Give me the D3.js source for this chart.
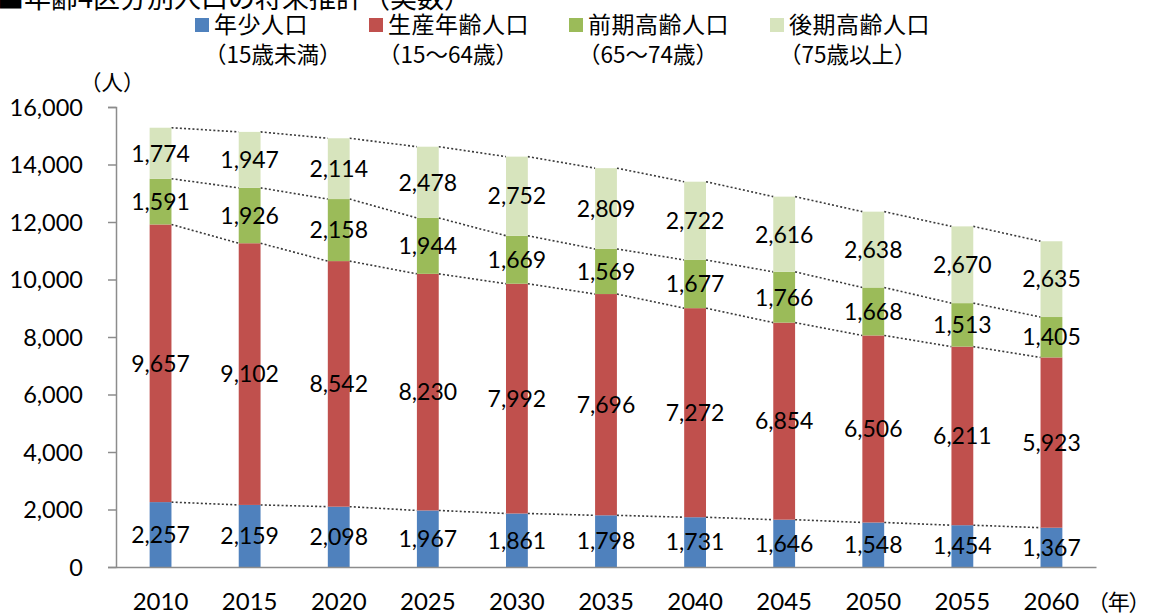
<!DOCTYPE html>
<html><head><meta charset="utf-8">
<script src="https://cdn.jsdelivr.net/npm/d3@7"></script>
<style>
body{margin:0;background:#fff;}
svg{display:block;}
text{font-family:"Lato","Noto Sans CJK JP",sans-serif;fill:#000;}
.jp{font-family:"Noto Sans CJK JP",sans-serif;}
</style></head>
<body>
<svg id="chart" width="1149" height="615"></svg>
<script>
const years = ["2010","2015","2020","2025","2030","2035","2040","2045","2050","2055","2060"];
const youth = [2257,2159,2098,1967,1861,1798,1731,1646,1548,1454,1367];
const working = [9657,9102,8542,8230,7992,7696,7272,6854,6506,6211,5923];
const earlyElderly = [1591,1926,2158,1944,1669,1569,1677,1766,1668,1513,1405];
const lateElderly = [1774,1947,2114,2478,2752,2809,2722,2616,2638,2670,2635];
const seriesNames = ["年少人口","生産年齢人口","前期高齢人口","後期高齢人口"];
const seriesSub = ["（15歳未満）","（15～64歳）","（65～74歳）","（75歳以上）"];
const colors = ["#4F81BD","#C0504D","#9BBB59","#D7E4BD"];
const yTicks = [0,2000,4000,6000,8000,10000,12000,14000,16000];
const title = "■年齢4区分別人口の将来推計（実数）";

const svg = d3.select("#chart");
const x0 = 116, x1 = 1096, yBottom = 567, yTop = 107;
const x = d3.scaleBand().domain(years).range([x0, x1]).paddingInner(0.755).paddingOuter(0.3775);
const y = d3.scaleLinear().domain([0,16000]).range([yBottom, yTop]);

const rows = years.map((yr,i)=>({year:yr, s0:youth[i], s1:working[i], s2:earlyElderly[i], s3:lateElderly[i]}));
const stack = d3.stack().keys(["s0","s1","s2","s3"])(rows);

// title (cut off at top)
svg.append("text").attr("class","jp").attr("x",-3).attr("y",8).attr("font-size",27).text(title);

// dotted connector lines
const bw = x.bandwidth();
stack.forEach(layer=>{
  for(let i=0;i<years.length-1;i++){
    svg.append("line")
      .attr("x1", x(years[i])+bw).attr("y1", y(layer[i][1]))
      .attr("x2", x(years[i+1])).attr("y2", y(layer[i+1][1]))
      .attr("stroke","#3a3a3a").attr("stroke-width",1.6).attr("stroke-dasharray","2,2.2");
  }
});

// bars
stack.forEach((layer,k)=>{
  svg.append("g").selectAll("rect").data(layer).join("rect")
    .attr("x", d=>x(d.data.year)).attr("width", bw)
    .attr("y", d=>y(d[1])).attr("height", d=>y(d[0])-y(d[1]))
    .attr("fill", colors[k]);
});

// axes
const yAxis = d3.axisLeft(y).tickValues(yTicks).tickSize(8).tickFormat(d3.format(","));
const gy = svg.append("g").attr("transform",`translate(${x0},0)`).call(yAxis);
gy.select(".domain").attr("stroke","#8c8c8c").attr("stroke-width",1.5);
gy.selectAll(".tick line").attr("stroke","#8c8c8c").attr("stroke-width",1.5);
gy.selectAll(".tick text").attr("font-size",23.5).attr("x",-33).attr("dy","0.36em").attr("fill","#000")
  .style("font-family","Lato,sans-serif");

const xAxis = d3.axisBottom(x).tickSize(0);
const gx = svg.append("g").attr("transform",`translate(0,${yBottom})`).call(xAxis);
gx.select(".domain").attr("stroke","#8c8c8c").attr("stroke-width",1.5);
gx.selectAll(".tick text").attr("font-size",24).attr("fill","#000").attr("y",43).attr("dy",0)
  .style("font-family","Lato,sans-serif");

// value labels
stack.forEach((layer,k)=>{
  svg.append("g").selectAll("text").data(layer).join("text")
    .attr("x", d=>x(d.data.year)+bw/2)
    .attr("y", d=>(y(d[0])+y(d[1]))/2)
    .attr("dy","0.36em").attr("text-anchor","middle").attr("font-size",23)
    .style("font-family","Lato,sans-serif")
    .text(d=>d3.format(",")(d[1]-d[0]));
});

// unit labels
svg.append("text").attr("class","jp").attr("x",80).attr("y",90).attr("font-size",21.5).text("（人）");
svg.append("text").attr("class","jp").attr("x",1087).attr("y",610).attr("font-size",22).attr("letter-spacing",-1.2).text("（年）");

// legend
const legX = [195,369,569,770];
seriesNames.forEach((n,k)=>{
  svg.append("rect").attr("x",legX[k]).attr("y",18).attr("width",14).attr("height",14).attr("fill",colors[k]);
  svg.append("text").attr("class","jp").attr("x",legX[k]+19).attr("y",33).attr("font-size",23).attr("letter-spacing",0.5).text(n);
  svg.append("text").attr("class","jp").attr("x",legX[k]+9).attr("y",63).attr("font-size",22.5).text(seriesSub[k]);
});
</script>
</body></html>
